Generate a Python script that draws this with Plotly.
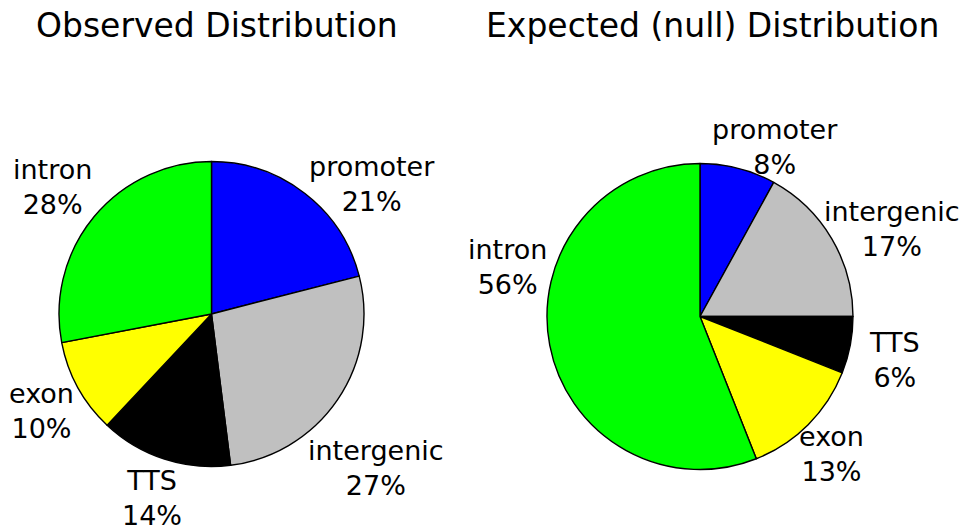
import plotly.graph_objects as go

categories = ["promoter", "intergenic", "TTS", "exon", "intron"]
observed = [21, 27, 14, 10, 28]
expected = [8, 17, 6, 13, 56]
colors = ["#0000FF", "#C0C0C0", "#000000", "#FFFF00", "#00FF00"]
titles = ["Observed Distribution", "Expected (null) Distribution"]

FONT = "DejaVu Sans"
W, H = 968, 525
OFF = 8  # page body margin

# layout: label block centres on the page (pixels), per pie, in category order
label_pos_obs = [(372, 183.5), (376, 467.5), (152, 497.5), (41, 411), (52, 187)]
label_pos_exp = [(775, 146.5), (892, 229), (894, 360), (831, 453.5), (508, 266.5)]


def dom(cx, cy, r):
    cx -= OFF
    cy -= OFF
    return dict(x=[(cx - r) / W, (cx + r) / W], y=[1 - (cy + r) / H, 1 - (cy - r) / H])


fig = go.Figure()
common = dict(
    labels=categories,
    sort=False,
    direction="clockwise",
    rotation=0,
    marker=dict(colors=colors, line=dict(color="#000000", width=1.4)),
    textinfo="none",
    showlegend=False,
    hoverinfo="label+percent",
)
fig.add_trace(go.Pie(values=observed, domain=dom(211.5, 314, 152.5), **common))
fig.add_trace(go.Pie(values=expected, domain=dom(700, 316.5, 153), **common))

for vals, positions in [(observed, label_pos_obs), (expected, label_pos_exp)]:
    total = sum(vals)
    for cat, v, (px, py) in zip(categories, vals, positions):
        fig.add_annotation(
            text=f"{cat}<br>{round(v * 100 / total)}%",
            x=(px - OFF) / W, y=1 - (py - OFF) / H, xref="paper", yref="paper",
            xanchor="center", yanchor="middle", align="center",
            showarrow=False, font=dict(family=FONT, size=27, color="#000000"),
        )

for t, cx in zip(titles, [217, 712]):
    fig.add_annotation(text=t, x=(cx - OFF) / W, y=1 - (25 - OFF) / H, xref="paper", yref="paper",
                       xanchor="center", yanchor="middle",
                       showarrow=False, font=dict(family=FONT, size=33, color="#000000"))

fig.update_layout(
    width=W, height=H,
    margin=dict(l=0, r=0, t=0, b=0),
    paper_bgcolor="#FFFFFF", plot_bgcolor="#FFFFFF",
    font=dict(family=FONT),
)
fig.write_html("out.html")
